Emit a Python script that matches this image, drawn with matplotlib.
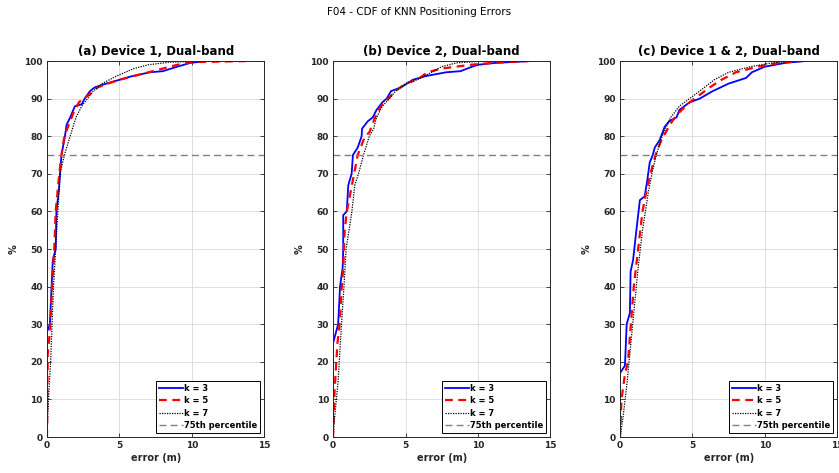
import numpy as np
import matplotlib.pyplot as plt

# CDF curves: error (m) vs cumulative %
# (a) Device 1, Dual-band
a_k3_err = [0, 0.0, 0.2, 0.4, 0.6, 0.65, 0.83, 0.9, 1.0, 1.24, 1.35, 1.6, 1.93, 2.4, 2.6, 2.97, 3.3, 4.1, 5.0, 5.9, 7.1, 8.0, 9.0, 9.9, 11.0]
a_k3_pct = [0, 28, 30, 47, 50, 60, 66, 70, 75, 80, 83, 85, 88, 88.5, 90, 92, 93, 94, 95, 96, 97, 97.3, 98.5, 99.5, 100]
a_k5_err = [0, 0.05, 0.2, 0.35, 0.5, 0.6, 0.85, 1.0, 1.2, 1.5, 1.8, 2.2, 2.5, 2.9, 3.5, 4.2, 5.0, 6.0, 7.0, 8.0, 9.0, 10.0, 14.0]
a_k5_pct = [0, 22, 28, 40, 50, 60, 70, 75, 80, 83, 86, 89, 90, 91, 93, 94, 95, 96, 97, 98, 99, 99.7, 100]
a_k7_err = [0, 0.1, 0.25, 0.35, 0.45, 0.6, 0.75, 0.9, 1.2, 1.6, 2.0, 2.4, 2.8, 3.2, 3.8, 4.8, 6.0, 7.0, 8.5, 11.0]
a_k7_pct = [0, 10, 20, 30, 40, 50, 60, 70, 75, 80, 85, 88, 90, 92, 94, 96, 98, 99, 99.7, 100]

# (b) Device 2, Dual-band
b_k3_err = [0, 0.0, 0.35, 0.48, 0.66, 0.7, 0.7, 0.94, 1.05, 1.28, 1.37, 1.7, 1.97, 2.0, 2.4, 2.74, 3.0, 3.4, 3.7, 4.0, 4.7, 5.5, 6.4, 7.8, 8.8, 9.6, 10.0, 11.2, 13.7]
b_k3_pct = [0, 25, 30, 40, 45, 50, 59, 60, 67, 70, 75, 77, 80, 82, 84, 85, 87, 89, 90, 92, 93, 95, 96, 97, 97.3, 98.5, 99, 99.5, 100]
b_k5_err = [0, 0.1, 0.3, 0.45, 0.6, 0.7, 0.75, 0.8, 0.95, 1.2, 1.45, 1.7, 2.2, 2.5, 2.9, 3.3, 3.8, 4.3, 5.0, 5.8, 6.5, 7.5, 8.5, 9.5, 11.0, 13.5]
b_k5_pct = [0, 12, 25, 30, 40, 45, 50, 55, 60, 65, 70, 75, 80, 81, 85, 88, 90, 92, 94, 95, 97, 98, 98.5, 99, 99.5, 100]
b_k7_err = [0, 0.1, 0.35, 0.5, 0.75, 0.9, 1.1, 1.3, 1.5, 1.75, 2.1, 2.5, 2.8, 3.0, 3.4, 3.9, 4.3, 5.0, 5.8, 6.8, 7.5, 8.5, 10.5]
b_k7_pct = [0, 5, 15, 25, 40, 50, 55, 60, 67, 70, 75, 80, 82, 85, 88, 90, 92, 94, 95, 97, 98.5, 99.5, 100]

# (c) Device 1 & 2, Dual-band
c_k3_err = [0, 0.0, 0.34, 0.46, 0.68, 0.73, 0.9, 1.1, 1.37, 1.7, 1.87, 2.05, 2.26, 2.4, 2.74, 3.08, 3.4, 3.9, 4.1, 4.8, 5.5, 6.4, 7.5, 8.7, 9.1, 10.0, 11.4, 12.8]
c_k3_pct = [0, 17, 19, 30, 33, 44, 47, 54, 63, 64, 68, 73, 75, 77, 79, 82.5, 84, 85, 87, 89, 90, 92, 94, 95.5, 97, 98.5, 99.5, 100]
c_k5_err = [0, 0.1, 0.35, 0.55, 0.75, 0.95, 1.25, 1.4, 1.55, 1.8, 2.1, 2.45, 2.75, 3.0, 3.6, 4.0, 4.8, 5.5, 6.2, 7.0, 8.0, 9.5, 11.0, 12.5]
c_k5_pct = [0, 10, 17, 20, 30, 40, 50, 55, 60, 65, 70, 75, 78, 80, 84, 86, 89, 91, 93, 95, 97, 98.5, 99.5, 100]
c_k7_err = [0, 0.2, 0.5, 0.75, 1.0, 1.25, 1.4, 1.55, 1.75, 1.95, 2.2, 2.5, 2.9, 3.5, 4.1, 4.8, 5.5, 6.5, 7.5, 9.0, 10.5, 12.0]
c_k7_pct = [0, 5, 15, 25, 35, 45, 50, 55, 60, 65, 70, 75, 80, 85, 88, 90, 92, 95, 97, 98.5, 99.5, 100]

titles = ["(a) Device 1, Dual-band", "(b) Device 2, Dual-band", "(c) Device 1 & 2, Dual-band"]
panels = [
    [(a_k3_err, a_k3_pct), (a_k5_err, a_k5_pct), (a_k7_err, a_k7_pct)],
    [(b_k3_err, b_k3_pct), (b_k5_err, b_k5_pct), (b_k7_err, b_k7_pct)],
    [(c_k3_err, c_k3_pct), (c_k5_err, c_k5_pct), (c_k7_err, c_k7_pct)],
]
labels = ["k = 3", "k = 5", "k = 7"]
percentile = 75

fig = plt.figure(figsize=(8.39, 4.73), dpi=100)
fig.suptitle("F04 - CDF of KNN Positioning Errors", y=0.985, fontsize=7.5)

lefts = [0.056, 0.397, 0.739]
for i in range(3):
    ax = fig.add_axes([lefts[i], 0.076, 0.259, 0.795])
    (x3, y3), (x5, y5), (x7, y7) = panels[i]
    ax.plot(x3, y3, color=(0, 0, 1), lw=1.3, label=labels[0])
    ax.plot(x5, y5, color=(1, 0, 0), lw=1.6, ls=(0, (3.5, 2.5)), label=labels[1])
    ax.plot(x7, y7, color="black", lw=0.9, ls=(0, (1, 1)), label=labels[2])
    ax.axhline(percentile, color=(0.5, 0.5, 0.5), lw=1.0, ls=(0, (5, 3)), label="75th percentile")

    ax.set_xlim(0, 15)
    ax.set_ylim(0, 100)
    ax.set_xticks([0, 5, 10, 15])
    ax.set_yticks(np.arange(0, 101, 10))
    ax.grid(True, color=(0.85, 0.85, 0.85), lw=0.6)
    ax.set_axisbelow(True)
    ax.tick_params(direction="in", top=True, right=True, length=3, width=0.6,
                   labelsize=6.5, colors=(0.15, 0.15, 0.15), pad=3)
    for lab in ax.get_xticklabels() + ax.get_yticklabels():
        lab.set_fontweight("bold")
    for sp in ax.spines.values():
        sp.set_color((0.15, 0.15, 0.15))
        sp.set_linewidth(0.7)
    ax.set_title(titles[i], fontsize=8.5, fontweight="bold", pad=4)
    ax.set_xlabel("error (m)", fontsize=7, fontweight="bold", color=(0.15, 0.15, 0.15), labelpad=2)
    ax.set_ylabel("%", fontsize=7, fontweight="bold", color=(0.15, 0.15, 0.15), labelpad=4)
    leg = ax.legend(loc="lower right", prop={"weight": "bold", "size": 6},
                    frameon=True, fancybox=False, framealpha=1, edgecolor="black",
                    handlelength=2.9, handletextpad=0.1, borderpad=0.35, labelspacing=0.4,
                    borderaxespad=0.5)
    leg.get_frame().set_linewidth(0.7)

fig.savefig("out.png", dpi=100)
